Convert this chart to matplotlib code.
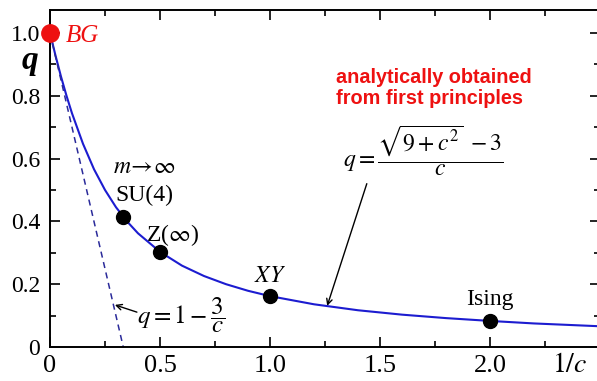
import matplotlib
matplotlib.use('Agg')
import matplotlib.pyplot as plt
from matplotlib.ticker import MultipleLocator, FixedLocator

plt.rcParams['font.family'] = ['Liberation Serif', 'DejaVu Serif']
plt.rcParams['mathtext.fontset'] = 'stix'

# 曲線 q(1/c) を図から読み取った値
curve_x = [0, 0.025, 0.05, 0.075, 0.1, 0.15, 0.2, 0.25, 0.3, 0.35, 0.4, 0.5,
           0.6, 0.7, 0.8, 0.9, 1.0, 1.2, 1.4, 1.6, 1.8, 2.0, 2.2, 2.4, 2.5]
curve_q = [1.0, 0.928, 0.861, 0.800, 0.744, 0.647, 0.566, 0.500, 0.445, 0.400,
           0.362, 0.303, 0.259, 0.226, 0.200, 0.179, 0.162, 0.136, 0.117,
           0.103, 0.092, 0.083, 0.075, 0.069, 0.066]

# 漸近線 q = 1 - 3/c
dash_x = [0, 0.333]
dash_q = [1.0, 0.0]

# 各モデルの点
pt_x = [0.333, 0.5, 1.0, 2.0]
pt_q = [0.414, 0.303, 0.162, 0.083]
pt_labels = ['SU(4)', r'Z($\infty$)', r'$XY$', 'Ising']

bg_x, bg_q = 0, 1.0

x_ticks = [0, 0.5, 1.0, 1.5, 2.0]
x_ticklabels = ['0', '0.5', '1.0', '1.5', '2.0']
y_ticks = [0, 0.2, 0.4, 0.6, 0.8, 1.0]
y_ticklabels = ['0', '0.2', '0.4', '0.6', '0.8', '1.0']

fig = plt.figure(figsize=(5.97, 3.81), dpi=100)
ax = fig.add_axes([50/597, 34/381, 550/597, 337/381])

ax.plot(curve_x, curve_q, color='#1c1cd0', lw=1.5, zorder=2)
ax.plot(dash_x, dash_q, color='#2a2a9a', lw=1.1, ls=(0, (4, 3)), zorder=2)
ax.plot(pt_x, pt_q, 'o', color='black', ms=10, zorder=3)
ax.plot([bg_x], [bg_q], 'o', color='#ee1111', ms=12.5, zorder=4, clip_on=False)

ax.set_xlim(0, 2.5)
ax.set_ylim(0, 1.073)
ax.xaxis.set_major_locator(FixedLocator(x_ticks))
ax.set_xticklabels(x_ticklabels)
ax.yaxis.set_major_locator(FixedLocator(y_ticks))
ax.set_yticklabels(y_ticklabels)
ax.xaxis.set_minor_locator(MultipleLocator(0.25))
ax.yaxis.set_minor_locator(MultipleLocator(0.1))
ax.tick_params(which='both', direction='in', top=True, right=True, width=1.2)
ax.tick_params(which='major', length=7)
ax.tick_params(axis='x', which='major', labelsize=19, pad=6)
ax.tick_params(axis='y', which='major', labelsize=17, pad=7)
ax.tick_params(which='minor', length=4)
for s in ax.spines.values():
    s.set_linewidth(1.4)

# 軸ラベル
ax.text(-0.091, 0.885, 'q', fontsize=24, fontweight='bold', style='italic',
        ha='center', va='baseline', clip_on=False)
ax.text(2.36, -0.08, r'$1/c$', fontsize=20, ha='center', va='baseline',
        clip_on=False)

ax.text(0.073, 0.971, 'BG', color='#ee1111', fontsize=18, style='italic',
        va='baseline')

# 点のラベル
ax.text(0.43, 0.57, r'$m\!\rightarrow\!\infty$', fontsize=17, ha='center',
        va='center')
ax.text(0.43, 0.484, pt_labels[0], fontsize=17, ha='center', va='center')
ax.text(0.556, 0.357, pt_labels[1], fontsize=17, ha='center', va='center')
ax.text(1.0, 0.207, pt_labels[2], fontsize=17, ha='center', va='baseline')
ax.text(2.0, 0.134, pt_labels[3], fontsize=17, ha='center', va='baseline')

ax.text(1.3, 0.825, 'analytically obtained\nfrom first principles',
        color='#ee1111', fontsize=14.3, fontweight='bold',
        family='Liberation Sans', ha='left', va='center', linespacing=1.15)

ax.text(1.698, 0.625, r'$q=\dfrac{\sqrt{9+c^2}\;-3}{c}$', fontsize=17,
        ha='center', va='center')
ax.annotate('', xy=(1.26, 0.131), xytext=(1.44, 0.52),
            arrowprops=dict(arrowstyle='->', color='black', lw=1.0,
                            shrinkA=0, shrinkB=0))
ax.text(0.597, 0.1, r'$q=1-\dfrac{3}{c}$', fontsize=18, ha='center',
        va='center')
ax.annotate('', xy=(0.295, 0.134), xytext=(0.395, 0.111),
            arrowprops=dict(arrowstyle='->', color='black', lw=1.0,
                            shrinkA=0, shrinkB=0))

fig.savefig('out.png', dpi=100)
